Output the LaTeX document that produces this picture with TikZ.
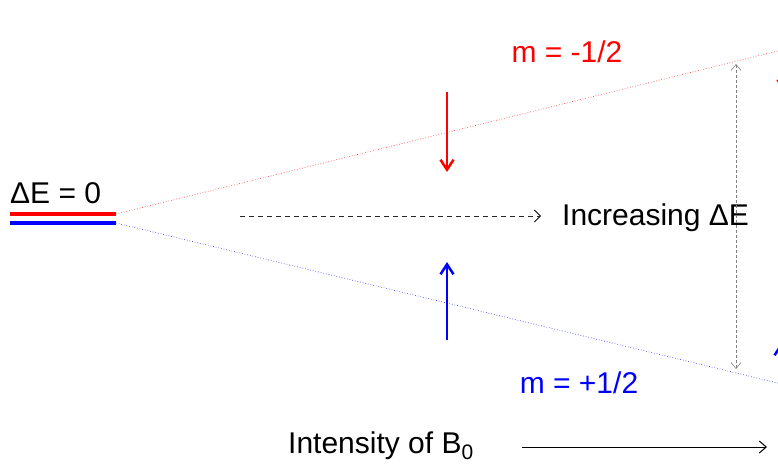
\documentclass[tikz,border=0pt]{standalone}
\usepackage{fontspec}
\setmainfont{Liberation Sans}
\usetikzlibrary{arrows.meta}
\definecolor{myred}{RGB}{255,0,0}
\definecolor{myblue}{RGB}{0,0,255}
\tikzset{
  lbl/.style={inner sep=0pt, font=\fontsize{30}{34}\selectfont},
  level/.style={line width=3.5pt},
  fan/.style={line width=0.7pt, dotted},
  trans/.style={line width=2.5pt, -{Straight Barb[length=10pt,width=13pt,line width=2.5pt]}},
}
\begin{document}
\begin{tikzpicture}[x=1pt,y=-1pt]
\useasboundingbox (0,0) rectangle (778,464);
\clip (0,0) rectangle (778,464);
% levels
\coordinate (r0) at (10,214);
\coordinate (r1) at (116,214);
\coordinate (b0) at (10,223);
\coordinate (b1) at (116,223);
\draw[level, myred] (r0) -- (r1);
\draw[level, myblue] (b0) -- (b1);
\node[lbl, anchor=south west] (dE0) at (10,204) {Δ{}E = 0};
% fan lines
\coordinate (rend) at (790,48);
\coordinate (bend) at (790,386);
\draw[fan, myred!70] (r1) -- (rend);
\draw[fan, myblue!70] (b1) -- (bend);
% transitions
\coordinate (ra) at (447,92);
\coordinate (rb) at (447,172);
\coordinate (ba) at (447,340);
\coordinate (bb) at (447,262);
\draw[trans, myred] (ra) -- (rb);
\draw[trans, myblue] (ba) -- (bb);
\coordinate (ra2) at (784,20);
\coordinate (rb2) at (784,92);
\coordinate (ba2) at (781,470);
\coordinate (bb2) at (781,343);
\draw[trans, myred] (ra2) -- (rb2);
\draw[trans, myblue] (ba2) -- (bb2);
% labels
\node[lbl, myred] (mneg) at (567,52) {m = -1/2};
\node[lbl, myblue] (mpos) at (579,383) {m = +1/2};
\node[lbl, anchor=west] (inc) at (562,218) {Increasing Δ{}E};
\coordinate (d0) at (240,216);
\coordinate (d1) at (541,216);
\draw[dash pattern=on 5pt off 4pt, line width=0.9pt, black!85, -{Straight Barb[length=6pt,width=12pt]}] (d0) -- (d1);
% vertical dimension
\coordinate (v0) at (736,64);
\coordinate (v1) at (736,369);
\draw[densely dashed, line width=0.6pt, gray, {Straight Barb[length=6pt,width=10pt]}-{Straight Barb[length=6pt,width=10pt]}] (v0) -- (v1);
% intensity
\node[lbl, anchor=west] (int) at (288,446) {Intensity of B\raisebox{-0.2em}{\fontsize{21}{22}\selectfont 0}};
\coordinate (ia) at (522,447);
\coordinate (ib) at (767,447);
\draw[line width=1pt, -{Straight Barb[length=7pt,width=12pt]}] (ia) -- (ib);
\end{tikzpicture}
\end{document}
